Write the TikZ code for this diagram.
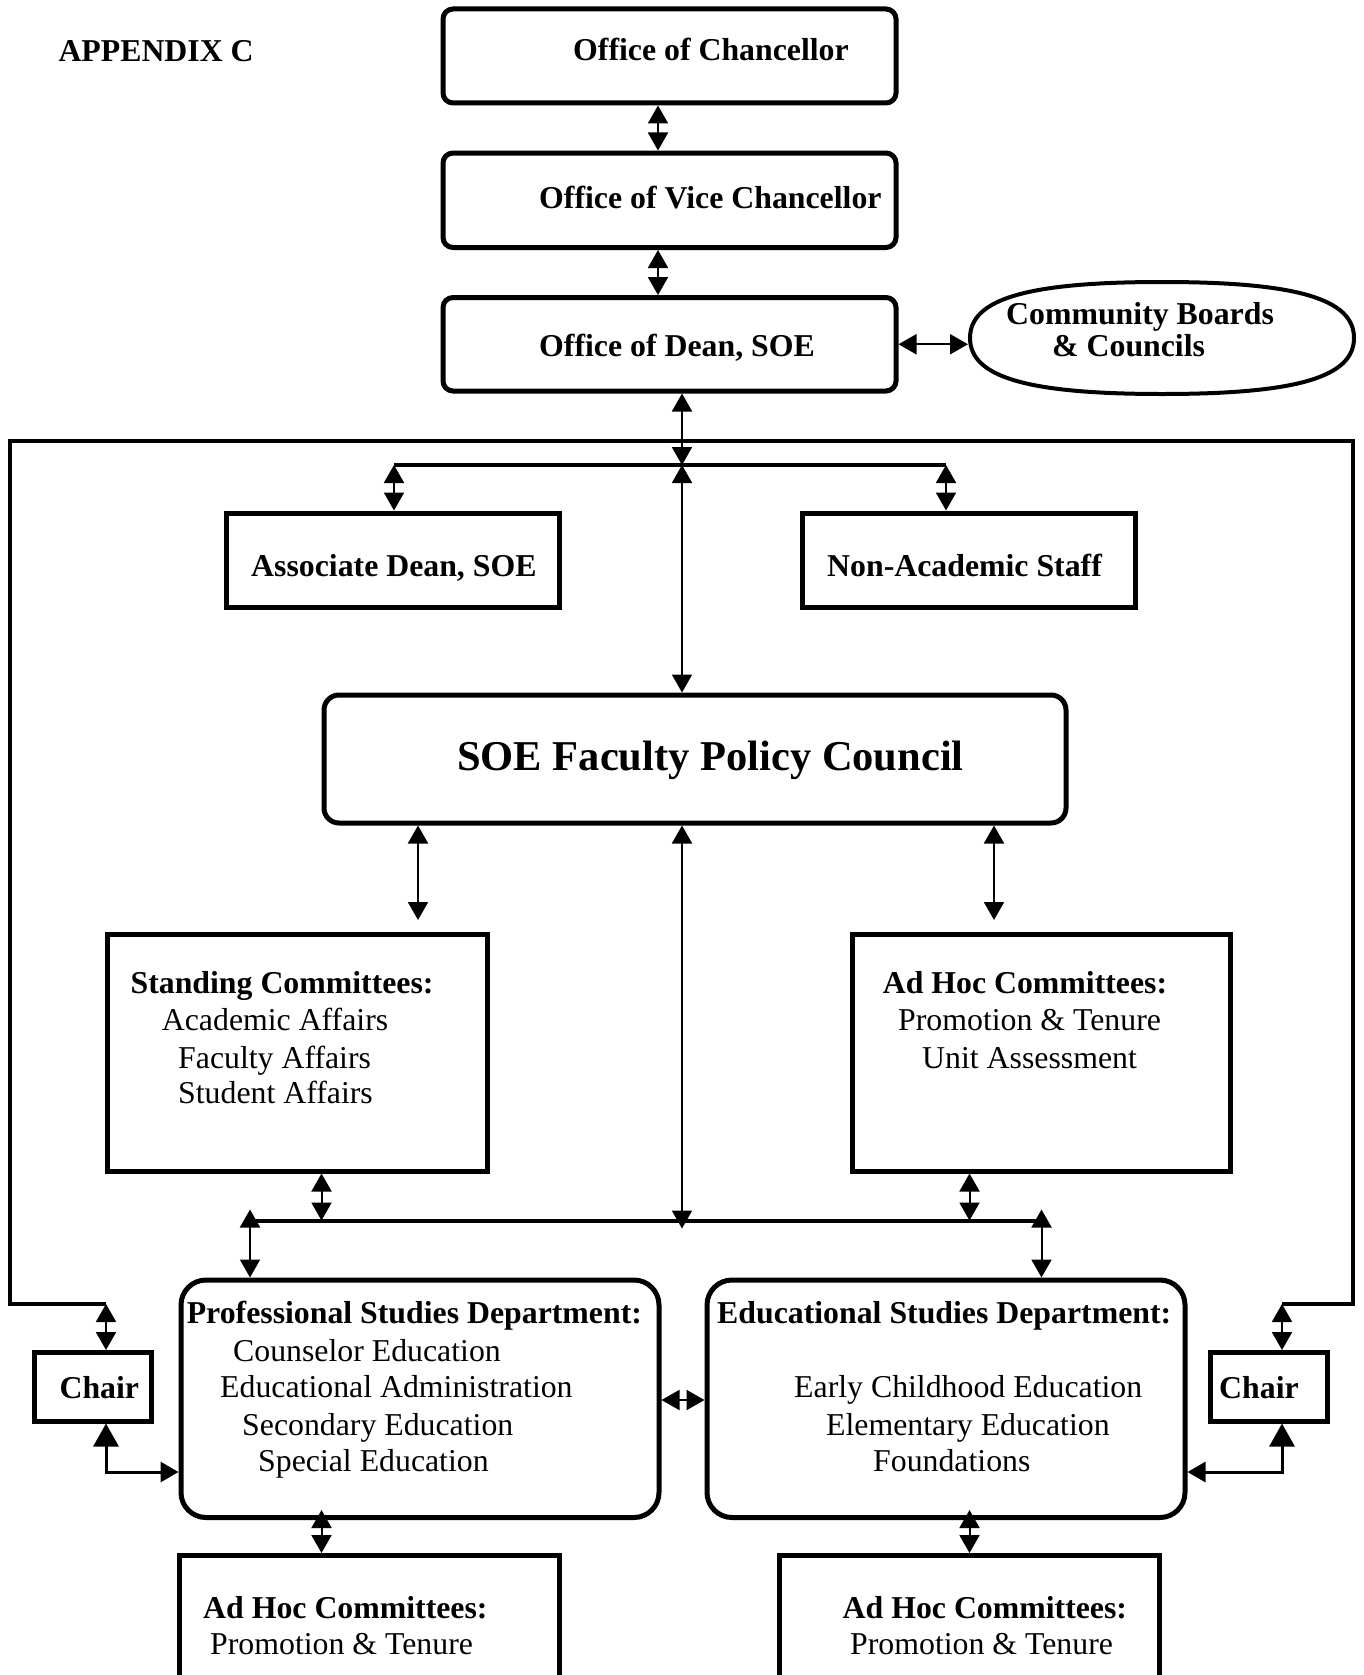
\documentclass[tikz,border=0pt]{standalone}
\usepackage{fontspec}
\setmainfont{Liberation Serif}
\usetikzlibrary{arrows.meta,shapes.geometric,calc}
\begin{document}
\begin{tikzpicture}[x=1pt,y=-1pt,
  >={Triangle[length=18pt,width=20pt]},
  box/.style={draw, line width=5pt, inner sep=0pt},
  rbox/.style={box, rounded corners=10pt},
  bt/.style={anchor=base west, inner sep=0pt, font=\fontsize{31.8pt}{38pt}\selectfont\bfseries},
  rt/.style={anchor=base west, inner sep=0pt, font=\fontsize{31.8pt}{38pt}\selectfont},
  dbl/.style={<->, line width=2pt},
  branch/.style={line width=4pt},
  chairlink/.style={line width=3pt, {Triangle[length=23pt,width=25pt]}-{Triangle[length=18pt,width=20pt]}},
]
\useasboundingbox (0,0) rectangle (1363,1675);

% boxes
\node[rbox, minimum width=453pt, minimum height=94pt] (chan) at (669.5,56) {};
\node[rbox, minimum width=453pt, minimum height=94.5pt] (vice) at (669.5,200.25) {};
\node[rbox, minimum width=453pt, minimum height=93.5pt] (dean) at (669.5,344.25) {};
\node[minimum width=384pt, minimum height=112pt, inner sep=0pt, outer sep=0pt] (comm) at (1162,338) {};
\draw[line width=4pt]
  (comm.west) .. controls ($(comm.west)!0.7!(comm.north west)$) and ($(comm.north)!0.7!(comm.north west)$) .. (comm.north)
  .. controls ($(comm.north)!0.7!(comm.north east)$) and ($(comm.east)!0.7!(comm.north east)$) .. (comm.east)
  .. controls ($(comm.east)!0.7!(comm.south east)$) and ($(comm.south)!0.7!(comm.south east)$) .. (comm.south)
  .. controls ($(comm.south)!0.7!(comm.south west)$) and ($(comm.west)!0.7!(comm.south west)$) .. (comm.west) -- cycle;
\node[box, minimum width=333pt, minimum height=94pt] (assoc) at (393,560) {};
\node[box, minimum width=333pt, minimum height=94pt] (nonac) at (968.5,560) {};
\node[box, rounded corners=15pt, minimum width=742pt, minimum height=128pt] (council) at (695,759) {};
\node[box, minimum width=380pt, minimum height=237pt] (standing) at (297,1052.5) {};
\node[box, minimum width=378pt, minimum height=237pt] (adhocU) at (1041,1052.5) {};
\node[box, rounded corners=25pt, minimum width=478pt, minimum height=237.5pt] (prof) at (420,1398.75) {};
\node[box, rounded corners=25pt, minimum width=478pt, minimum height=237.5pt] (ed) at (946,1398.75) {};
\node[box, minimum width=117pt, minimum height=68.5pt] (chairL) at (93,1386.75) {};
\node[box, minimum width=117pt, minimum height=68.5pt] (chairR) at (1269,1386.75) {};
\node[box, minimum width=379.5pt, minimum height=160pt] (adhocLL) at (369.25,1635.5) {};
\node[box, minimum width=380pt, minimum height=160pt] (adhocLR) at (969,1635.5) {};

% texts
\node[bt] (tappx) at (58.3,61.7) {APPENDIX C};
\node[bt] (tchan) at (573,61) {Office of Chancellor};
\node[bt] (tvice) at (539,208) {Office of Vice Chancellor};
\node[bt] (tdean) at (539,356) {Office of Dean, SOE};
\node[bt] (tcomm1) at (1006,324) {Community Boards};
\node[bt] (tcomm2) at (1052,356) {\& Councils};
\node[bt] (tassoc) at (251,576.7) {Associate Dean, SOE};
\node[bt] (tnonac) at (827,576.7) {Non-Academic Staff};
\node[anchor=base west, inner sep=0pt, font=\fontsize{42.5pt}{50pt}\selectfont\bfseries] (tcouncil) at (457,770) {SOE Faculty Policy Council};
\node[bt] (tst0) at (130.4,993.5) {Standing Committees:};
\node[rt] (tst1) at (161.7,1030) {Academic Affairs};
\node[rt] (tst2) at (178,1068) {Faculty Affairs};
\node[rt] (tst3) at (178,1103) {Student Affairs};
\node[bt] (tah0) at (882.6,993.5) {Ad Hoc Committees:};
\node[rt] (tah1) at (898,1030) {Promotion \& Tenure};
\node[rt] (tah2) at (922,1068) {Unit Assessment};
\node[bt] (tps0) at (186.6,1323) {Professional Studies Department:};
\node[rt] (tps1) at (233,1361) {Counselor Education};
\node[rt] (tps2) at (220,1397) {Educational Administration};
\node[rt] (tps3) at (242,1435) {Secondary Education};
\node[rt] (tps4) at (258,1471) {Special Education};
\node[bt] (tes0) at (717,1323) {Educational Studies Department:};
\node[rt] (tes1) at (794,1397) {Early Childhood Education};
\node[rt] (tes2) at (826,1435) {Elementary Education};
\node[rt] (tes3) at (873,1471) {Foundations};
\node[bt] (tchL) at (59.4,1398) {Chair};
\node[bt] (tchR) at (1219,1398) {Chair};
\node[bt] (tll0) at (203,1618) {Ad Hoc Committees:};
\node[rt] (tll1) at (210,1654) {Promotion \& Tenure};
\node[bt] (tlr0) at (842.5,1618) {Ad Hoc Committees:};
\node[rt] (tlr1) at (850,1654) {Promotion \& Tenure};

% helper coordinates
\coordinate (xA) at (658,0);
\coordinate (j1) at (682,465);
\coordinate (j1L) at (394,465);
\coordinate (j1R) at (946,465);
\coordinate (xSt) at (418,0);
\coordinate (xAh) at (994,0);
\coordinate (j2) at (682,1220.5);
\coordinate (j2L) at (250,1220.5);
\coordinate (j2R) at (1041.5,1220.5);
\coordinate (xSb) at (321.5,0);
\coordinate (xAb) at (969.5,0);
\coordinate (fL) at (106,1304);
\coordinate (fR) at (1282,1304);
\coordinate (fTL) at (9.5,441);
\coordinate (fTR) at (1353,441);
\coordinate (cL) at (106,1472);
\coordinate (cR) at (1282,1472);
\coordinate (pe) at (683,1400);

% outer frame
\draw[branch] (fL) -- (fL -| fTL) -- (fTL) -- (fTR) -- (fR -| fTR) -- (fR);

% branches
\draw[branch] (j1L) -- (j1R);
\draw[branch] (j2L) -- (j2R);

% connectors
\draw[dbl] (chan.south -| xA) -- (vice.north -| xA);
\draw[dbl] (vice.south -| xA) -- (dean.north -| xA);
\draw[dbl, shorten >=2pt] (dean.east) -- (comm.west |- dean.east);
\draw[dbl] (dean.south -| j1) -- (j1);
\draw[dbl] (j1) -- (council.north -| j1);
\draw[dbl] (j1L) -- (assoc.north -| j1L);
\draw[dbl] (j1R) -- (nonac.north -| j1R);
\draw[dbl, shorten >=11.5pt] (council.south -| xSt) -- (standing.north -| xSt);
\draw[dbl, shorten >=11.5pt] (council.south -| xAh) -- (adhocU.north -| xAh);
\draw[dbl] (council.south -| j2) -- ([yshift=-8pt]j2);
\draw[dbl] (standing.south -| xSb) -- (j2 -| xSb);
\draw[dbl] (adhocU.south -| xAb) -- (j2 -| xAb);
\draw[dbl] ([yshift=11pt]j2L) -- (prof.north -| j2L);
\draw[dbl] ([yshift=11pt]j2R) -- (ed.north -| j2R);
\draw[dbl] (prof.east |- pe) -- (ed.west |- pe);
\draw[dbl] ([yshift=10pt]prof.south -| xSb) -- (adhocLL.north -| xSb);
\draw[dbl] ([yshift=10pt]ed.south -| xAb) -- (adhocLR.north -| xAb);
\draw[dbl] (fL) -- (chairL.north -| fL);
\draw[dbl] (fR) -- (chairR.north -| fR);
\draw[chairlink] (chairL.south -| fL) |- (prof.west |- cL);
\draw[chairlink] (chairR.south -| fR) |- (ed.east |- cR);
\end{tikzpicture}
\end{document}
